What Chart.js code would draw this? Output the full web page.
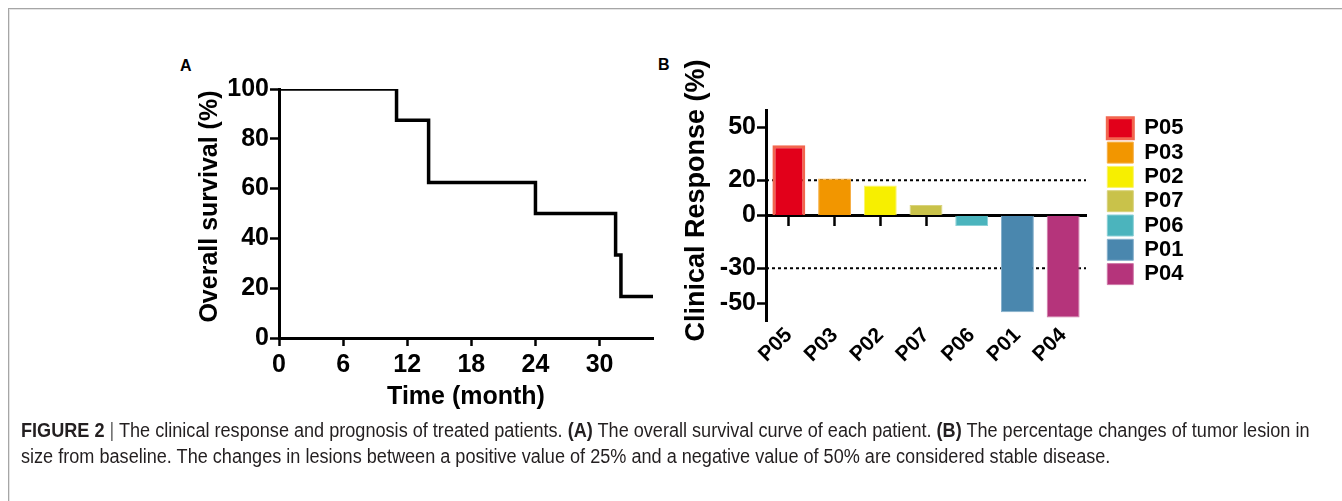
<!DOCTYPE html>
<html>
<head>
<meta charset="utf-8">
<script src="https://cdn.jsdelivr.net/npm/chart.js@4.4.0/dist/chart.umd.min.js"></script>
<style>
body{margin:0;width:1342px;height:501px;background:#fff;overflow:hidden;position:relative;font-family:"Liberation Sans",Arial,sans-serif}
.frame{position:absolute;left:8px;top:8px;width:1340px;height:500px;border-top:1px solid #a6a6a6;border-left:1px solid #a6a6a6;box-shadow:inset 1px 1px 0 #e4e4e4}
.panel{position:absolute;font-weight:bold;font-size:16px;line-height:16px;color:#000}
#survChart{position:absolute;left:170px;top:60px}
#respChart{position:absolute;left:670px;top:50px}
.caption{position:absolute;left:21px;top:417px;font-size:20px;line-height:26px;white-space:nowrap;transform:scaleX(0.905);transform-origin:left top;color:#231f20}
.caption b{font-weight:bold}
.caption .bar{color:#666}
</style>
</head>
<body>
<div class="frame"></div>
<div class="panel" style="left:180px;top:58px">A</div>
<div class="panel" style="left:658px;top:57px">B</div>
<canvas id="survChart" width="500" height="360"></canvas>
<canvas id="respChart" width="522" height="330"></canvas>
<div class="caption"><b>FIGURE 2</b> <span class="bar">|</span> The clinical response and prognosis of treated patients. <b>(A)</b> The overall survival curve of each patient. <b>(B)</b> The percentage changes of tumor lesion in<br>size from baseline. The changes in lesions between a positive value of 25% and a negative value of 50% are considered stable disease.</div>
<script>
/* DATA */

const survMonths=[0,11,14,24,31.5,32,35];
const survPct=[100,87.5,62.5,50,33.3,16.7,16.7];
const monthTicks=[0,6,12,18,24,30];
const survTicks=[0,20,40,60,80,100];

const patients=["P05","P03","P02","P07","P06","P01","P04"];
const response=[40,21,17,6,-6,-55,-58];
const responseTicks=[-50,-30,0,20,50];
const cutoffs=[20,-30];

const barFill=["#e2001a","#f29600","#f7ef00","#c9c24a","#4bb4bd","#4a87ae","#b5347b"];
const barEdge=["#f2664f","#f6b04a","#fbf36a","#d9d37c","#8bd0d6","#86b0cc","#cf79a8"];

Chart.defaults.font.family='"Liberation Sans", Arial, Helvetica, sans-serif';
Chart.defaults.color="#000";

const axisFont={size:25,weight:"bold"};


/* SURVIVAL CURVE */

new Chart(document.getElementById("survChart"),{

type:"line",

data:{
datasets:[{
data:survMonths.map((m,i)=>({x:m,y:survPct[i]})),
stepped:"before",
borderColor:"#000",
borderWidth:3.5,
pointRadius:0,
fill:false
}]
},

options:{
responsive:false,
animation:false,
layout:{padding:{top:29,right:17,left:0,bottom:0}},
plugins:{legend:{display:false},tooltip:{enabled:false}},
scales:{
x:{
type:"linear",min:0,max:35,
afterBuildTicks:s=>{s.ticks=monthTicks.map(v=>({value:v}));},
afterFit:s=>{s.height=82;},
border:{color:"#000",width:3},
grid:{drawOnChartArea:false,tickLength:8,tickColor:"#000",tickWidth:2.5},
ticks:{font:axisFont,padding:4,maxRotation:0},
title:{display:true,text:"Time (month)",font:axisFont,padding:{bottom:8}}
},
y:{
min:0,max:100,
afterBuildTicks:s=>{s.ticks=survTicks.map(v=>({value:v}));},
afterFit:s=>{s.width=109;},
border:{color:"#000",width:3},
grid:{drawOnChartArea:false,tickLength:9,tickColor:"#000",tickWidth:2.5},
ticks:{font:axisFont,padding:1},
title:{display:true,text:"  Overall survival (%)",font:axisFont,padding:{top:25}}
}
}
}

});


/* RESPONSE BARS */

const cutoffLines={
id:"cutoffLines",
beforeDatasetsDraw(chart){
const {ctx,chartArea,scales}=chart;
ctx.save();
ctx.strokeStyle="#000";
ctx.lineWidth=2;
ctx.setLineDash([3,3]);
cutoffs.forEach(v=>{
const y=scales.y.getPixelForValue(v);
ctx.beginPath();
ctx.moveTo(chartArea.left,y);
ctx.lineTo(chartArea.right,y);
ctx.stroke();
});
ctx.restore();
}
};

new Chart(document.getElementById("respChart"),{

type:"bar",

data:{
labels:patients,
datasets:[{
xAxisID:"x",
data:response,
backgroundColor:barFill,
borderColor:barEdge,
borderWidth:patients.map((p,i)=>i===0?3:1),
barPercentage:0.72,
categoryPercentage:1
}]
},

options:{
responsive:false,
animation:false,
layout:{padding:{top:60,right:0,left:0,bottom:0}},
plugins:{
tooltip:{enabled:false},
legend:{
position:"right",
align:"start",
title:{display:true,text:"",font:{size:5,lineHeight:1},padding:0},
labels:{
boxWidth:26,boxHeight:21,padding:2.3,
font:{size:22,weight:"bold"},
generateLabels:()=>patients.map((p,i)=>({
text:p,fillStyle:barFill[i],strokeStyle:barEdge[i],
lineWidth:i===0?3:1,hidden:false,index:i
}))
}
}
},
scales:{
x:{
axis:"x",
position:{y:0},
afterFit:s=>{s.height=0;},
border:{color:"#000",width:3},
grid:{offset:false,drawOnChartArea:false,tickLength:9,tickColor:"#000",tickWidth:2.5},
ticks:{display:false}
},
xl:{
axis:"x",
type:"category",
position:"bottom",
offset:true,
afterFit:s=>{s.height=59;},
border:{display:false},
grid:{display:false,drawTicks:false},
ticks:{font:{size:21,weight:"bold"},minRotation:45,maxRotation:45,padding:2}
},
y:{
min:-60,max:60,
afterBuildTicks:s=>{s.ticks=responseTicks.map(v=>({value:v}));},
afterFit:s=>{s.width=96;},
border:{color:"#000",width:3},
grid:{drawOnChartArea:false,tickLength:9,tickColor:"#000",tickWidth:2.5},
ticks:{font:axisFont,padding:1},
title:{display:true,text:"    Clinical Response (%)",font:{size:27,weight:"bold"},padding:{top:10}}
},
gap:{
axis:"y",
position:"right",
display:true,
afterFit:s=>{s.width=19;},
border:{display:false},
grid:{display:false,drawTicks:false},
ticks:{display:false}
}
}
},

plugins:[cutoffLines]

});
</script>
</body>
</html>
